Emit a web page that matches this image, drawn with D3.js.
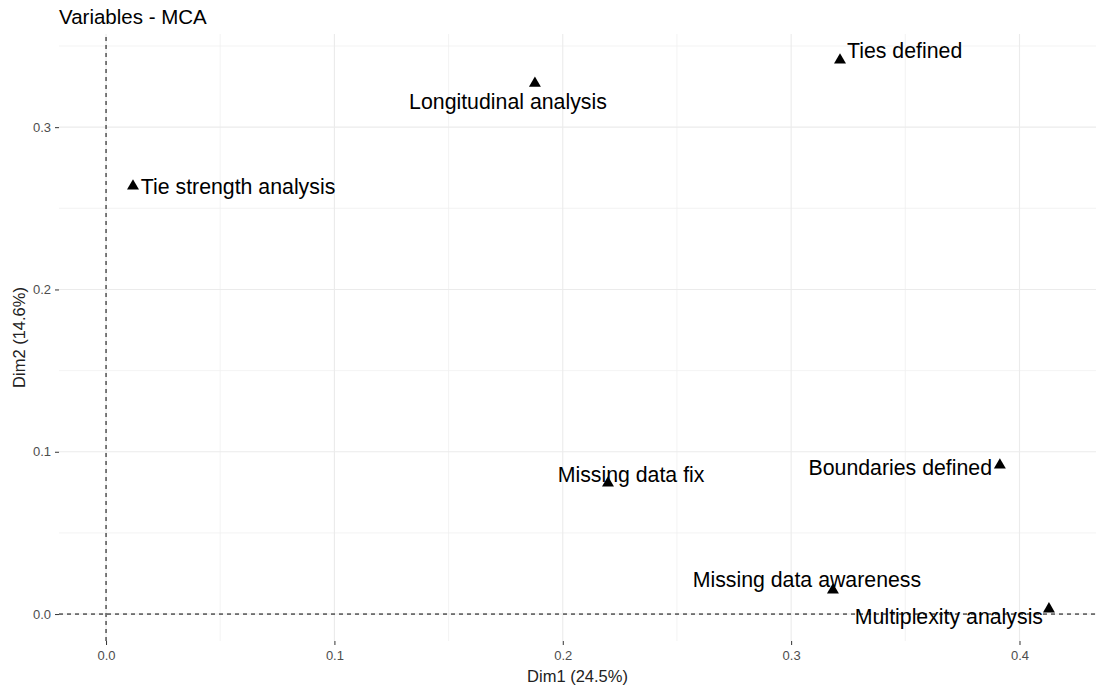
<!DOCTYPE html>
<html>
<head>
<meta charset="utf-8">
<script src="https://cdn.jsdelivr.net/npm/d3@7"></script>
<style>
  html, body { margin: 0; padding: 0; background: #fff; }
  svg { display: block; font-family: "Liberation Sans", Arial, sans-serif; }
</style>
</head>
<body>
<svg id="chart" width="1096" height="691"></svg>
<script>
// MCA variable coordinates
const variables = ["Tie strength analysis", "Longitudinal analysis", "Ties defined",
  "Missing data fix", "Boundaries defined", "Missing data awareness", "Multiplexity analysis"];
const dim1 = [0.0118, 0.1878, 0.3214, 0.2198, 0.3914, 0.3183, 0.4129];
const dim2 = [0.2637, 0.3270, 0.3413, 0.0807, 0.0918, 0.0148, 0.0031];
// repelled label anchors (data units, label centre)
const labelDim1 = [0.0578, 0.1760, 0.3497, 0.2299, 0.3478, 0.3069, 0.3691];
const labelDim2 = [0.2631, 0.3155, 0.3469, 0.0856, 0.0899, 0.0209, -0.0019];

const xTicks = [0.0, 0.1, 0.2, 0.3, 0.4];
const yTicks = [0.0, 0.1, 0.2, 0.3];

const W = 1096, H = 691;
const m = { left: 59, right: 0, top: 34, bottom: 50 };
const svg = d3.select("#chart");

const x = d3.scaleLinear().domain([-0.0206, 0.4335]).range([m.left, W - m.right]);
const y = d3.scaleLinear().domain([-0.0166, 0.3574]).range([H - m.bottom, m.top]);

// grid
const grid = svg.append("g");
const xMinor = d3.range(-0.05, 0.45, 0.1).filter(v => v > x.domain()[0] && v < x.domain()[1]);
const yMinor = d3.range(0.05, 0.40, 0.1).filter(v => v > y.domain()[0] && v < y.domain()[1]);
grid.selectAll(".xmin").data(xMinor).join("line")
  .attr("x1", d => x(d)).attr("x2", d => x(d)).attr("y1", y.range()[0]).attr("y2", y.range()[1])
  .attr("stroke", "#f0f0f0").attr("stroke-width", 0.8);
grid.selectAll(".ymin").data(yMinor).join("line")
  .attr("y1", d => y(d)).attr("y2", d => y(d)).attr("x1", x.range()[0]).attr("x2", x.range()[1])
  .attr("stroke", "#f0f0f0").attr("stroke-width", 0.8);
grid.selectAll(".xmaj").data(xTicks).join("line")
  .attr("x1", d => x(d)).attr("x2", d => x(d)).attr("y1", y.range()[0]).attr("y2", y.range()[1])
  .attr("stroke", "#ebebeb").attr("stroke-width", 1.1);
grid.selectAll(".ymaj").data(yTicks).join("line")
  .attr("y1", d => y(d)).attr("y2", d => y(d)).attr("x1", x.range()[0]).attr("x2", x.range()[1])
  .attr("stroke", "#ebebeb").attr("stroke-width", 1.1);

// reference lines at zero
svg.append("line").attr("x1", x(0)).attr("x2", x(0)).attr("y1", y.range()[0]).attr("y2", y.range()[1])
  .attr("stroke", "#000").attr("stroke-width", 1).attr("stroke-dasharray", "4,4");
svg.append("line").attr("y1", y(0)).attr("y2", y(0)).attr("x1", x.range()[0]).attr("x2", x.range()[1])
  .attr("stroke", "#000").attr("stroke-width", 1).attr("stroke-dasharray", "4,4");

// axes
const xAxis = svg.append("g").attr("transform", `translate(0,${H - m.bottom})`)
  .call(d3.axisBottom(x).tickValues(xTicks).tickFormat(d3.format(".1f")).tickSize(4).tickPadding(6));
const yAxis = svg.append("g").attr("transform", `translate(${m.left},0)`)
  .call(d3.axisLeft(y).tickValues(yTicks).tickFormat(d3.format(".1f")).tickSize(4).tickPadding(4));
[xAxis, yAxis].forEach(a => {
  a.select(".domain").remove();
  a.selectAll(".tick line").attr("stroke", "#333").attr("stroke-width", 1);
  a.selectAll(".tick text").attr("fill", "#4d4d4d").style("font-size", "13px")
    .style("font-family", "Liberation Sans, Arial, sans-serif");
});

// axis titles and title
svg.append("text").attr("x", (x.range()[0] + x.range()[1]) / 2).attr("y", 682)
  .attr("text-anchor", "middle").attr("fill", "#222").style("font-size", "16.5px").text("Dim1 (24.5%)");
svg.append("text").attr("transform", `translate(25,${(y.range()[0] + y.range()[1]) / 2}) rotate(-90)`)
  .attr("text-anchor", "middle").attr("fill", "#222").style("font-size", "16.5px").text("Dim2 (14.6%)");
svg.append("text").attr("x", 59).attr("y", 24).attr("fill", "#000")
  .style("font-size", "20.5px").text("Variables - MCA");

// points
const pts = variables.map((v, i) => ({ name: v, d1: dim1[i], d2: dim2[i], l1: labelDim1[i], l2: labelDim2[i] }));
svg.append("g").selectAll("path").data(pts).join("path")
  .attr("transform", d => `translate(${x(d.d1)},${y(d.d2)})`)
  .attr("d", d3.symbol().type(d3.symbolTriangle).size(62))
  .attr("fill", "#000");

// labels
svg.append("g").selectAll("text").data(pts).join("text")
  .attr("x", d => x(d.l1)).attr("y", d => y(d.l2))
  .attr("text-anchor", "middle").attr("dominant-baseline", "central")
  .attr("fill", "#000").style("font-size", "21.3px")
  .text(d => d.name);
</script>
</body>
</html>
